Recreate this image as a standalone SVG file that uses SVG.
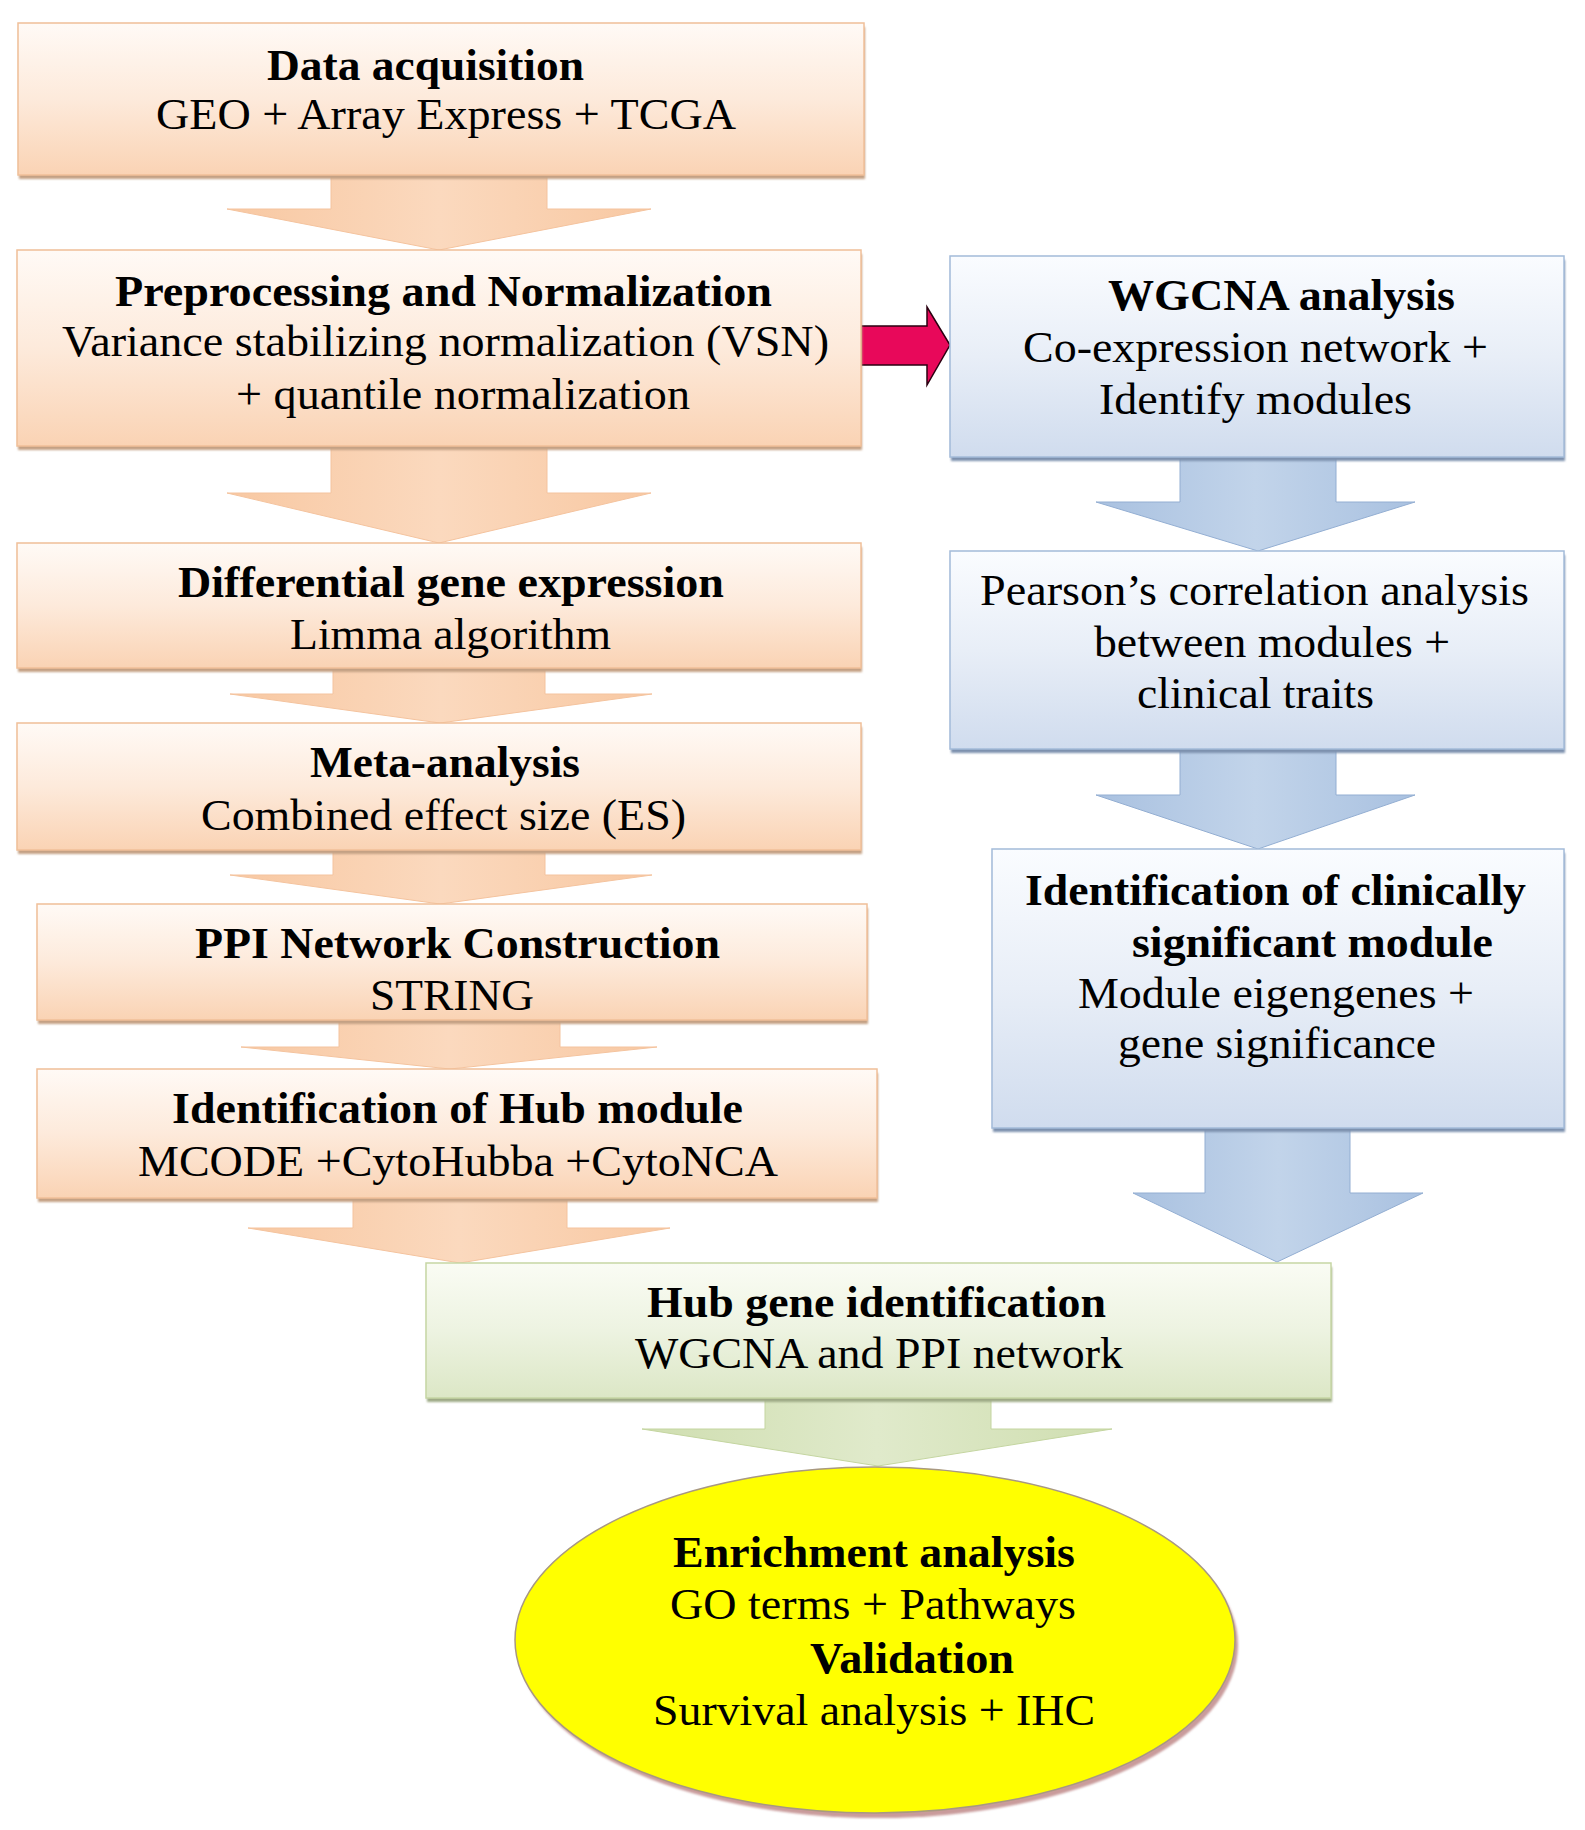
<svg xmlns="http://www.w3.org/2000/svg" width="1585" height="1830" viewBox="0 0 1585 1830">
<defs>
<linearGradient id="gOr" x1="0" y1="0" x2="0" y2="1"><stop offset="0" stop-color="#FFFAF6"/><stop offset="0.5" stop-color="#FDEADB"/><stop offset="1" stop-color="#FAD3B4"/></linearGradient>
<linearGradient id="gBl" x1="0" y1="0" x2="0" y2="1"><stop offset="0" stop-color="#FAFCFF"/><stop offset="0.5" stop-color="#E8EEF7"/><stop offset="1" stop-color="#D0DCEE"/></linearGradient>
<linearGradient id="gGr" x1="0" y1="0" x2="0" y2="1"><stop offset="0" stop-color="#FAFCF4"/><stop offset="0.5" stop-color="#EDF3E1"/><stop offset="1" stop-color="#DCE7C6"/></linearGradient>
<linearGradient id="aOr" x1="0" y1="0" x2="1" y2="0"><stop offset="0" stop-color="#F8C8A2"/><stop offset="0.5" stop-color="#FBD9BE"/><stop offset="1" stop-color="#F8C8A2"/></linearGradient>
<linearGradient id="aBl" x1="0" y1="0" x2="1" y2="0"><stop offset="0" stop-color="#A9C1E0"/><stop offset="0.5" stop-color="#C2D4EA"/><stop offset="1" stop-color="#A9C1E0"/></linearGradient>
<linearGradient id="aGr" x1="0" y1="0" x2="1" y2="0"><stop offset="0" stop-color="#CFDEB0"/><stop offset="0.5" stop-color="#E0EACB"/><stop offset="1" stop-color="#CFDEB0"/></linearGradient>
<filter id="blur" x="-5%" y="-5%" width="110%" height="115%"><feGaussianBlur stdDeviation="1.2"/></filter>
</defs>
<style>
.or{fill:url(#gOr);stroke:#F0BF98;stroke-width:1.5}
.bl{fill:url(#gBl);stroke:#A3BBD9;stroke-width:1.5}
.gr{fill:url(#gGr);stroke:#C6D6A4;stroke-width:1.5}
.shO{fill:#C4A184;filter:url(#blur)}
.shB{fill:#7D91AE;filter:url(#blur)}
.shG{fill:#9EAA86;filter:url(#blur)}
.arO{fill:url(#aOr);stroke:#F4C39E;stroke-width:1}
.arB{fill:url(#aBl);stroke:#93AED2;stroke-width:1}
.arG{fill:url(#aGr);stroke:#C4D5A0;stroke-width:1}
text{font-family:"Liberation Serif","Times New Roman",serif;font-size:45px;fill:#000}
.t{font-weight:bold}
</style>
<rect width="1585" height="1830" fill="#FFFFFF"/>
<g id="connectors">
<polygon class="arO" points="331,170 547,170 547,209 651,209 439,250 227,209 331,209"/>
<polygon class="arO" points="331,440 547,440 547,493 651,493 439,543 227,493 331,493"/>
<polygon class="arO" points="333,662 545,662 545,694 652,694 440,723 230,694 333,694"/>
<polygon class="arO" points="333,844 545,844 545,875 652,875 440,904 230,875 333,875"/>
<polygon class="arO" points="339,1014 560,1014 560,1047 657,1047 450,1069 241,1047 339,1047"/>
<polygon class="arO" points="353,1192 567,1192 567,1228 670,1228 460,1263 248,1228 353,1228"/>
<polygon class="arB" points="1180,452 1336,452 1336,502 1415,502 1258,551 1096,502 1180,502"/>
<polygon class="arB" points="1180,744 1336,744 1336,795 1415,795 1258,849 1096,795 1180,795"/>
<polygon class="arB" points="1205,1122 1350,1122 1350,1193 1423,1193 1277,1262 1133,1193 1205,1193"/>
<polygon class="arG" points="765,1393 991,1393 991,1429 1112,1429 878,1466 642,1429 765,1429"/>
<polygon fill="#E8085A" stroke="#2A0010" stroke-width="1.5" points="861,326 927,326 927,307 950,345 927,385 927,365 861,365"/>
</g>
<g id="n1"><rect class="shO" x="19" y="27" width="846" height="152"/><rect class="or" x="18" y="23" width="846" height="152"/>
<text class="t" x="267" y="80" textLength="317" lengthAdjust="spacingAndGlyphs">Data acquisition</text>
<text x="156" y="129" textLength="580" lengthAdjust="spacingAndGlyphs">GEO + Array Express + TCGA</text></g>
<g id="n2"><rect class="shO" x="18" y="254" width="844" height="196"/><rect class="or" x="17" y="250" width="844" height="196"/>
<text class="t" x="115" y="306" textLength="657" lengthAdjust="spacingAndGlyphs">Preprocessing and Normalization</text>
<text x="62" y="356" textLength="767" lengthAdjust="spacingAndGlyphs">Variance stabilizing normalization (VSN)</text>
<text x="236" y="409" textLength="454" lengthAdjust="spacingAndGlyphs">+ quantile normalization</text></g>
<g id="n3"><rect class="shO" x="18" y="547" width="844" height="125"/><rect class="or" x="17" y="543" width="844" height="125"/>
<text class="t" x="178" y="597" textLength="546" lengthAdjust="spacingAndGlyphs">Differential gene expression</text>
<text x="290" y="649" textLength="321" lengthAdjust="spacingAndGlyphs">Limma algorithm</text></g>
<g id="n4"><rect class="shO" x="18" y="727" width="844" height="127"/><rect class="or" x="17" y="723" width="844" height="127"/>
<text class="t" x="310" y="777" textLength="270" lengthAdjust="spacingAndGlyphs">Meta-analysis</text>
<text x="201" y="830" textLength="485" lengthAdjust="spacingAndGlyphs">Combined effect size (ES)</text></g>
<g id="n5"><rect class="shO" x="38" y="908" width="830" height="116"/><rect class="or" x="37" y="904" width="830" height="116"/>
<text class="t" x="195" y="958" textLength="525" lengthAdjust="spacingAndGlyphs">PPI Network Construction</text>
<text x="370" y="1010" textLength="164" lengthAdjust="spacingAndGlyphs">STRING</text></g>
<g id="n6"><rect class="shO" x="38" y="1073" width="840" height="129"/><rect class="or" x="37" y="1069" width="840" height="129"/>
<text class="t" x="172" y="1123" textLength="571" lengthAdjust="spacingAndGlyphs">Identification of Hub module</text>
<text x="138" y="1176" textLength="640" lengthAdjust="spacingAndGlyphs">MCODE +CytoHubba +CytoNCA</text></g>
<g id="n7"><rect class="shB" x="951" y="260" width="614" height="201"/><rect class="bl" x="950" y="256" width="614" height="201"/>
<text class="t" x="1108" y="310" textLength="347" lengthAdjust="spacingAndGlyphs">WGCNA analysis</text>
<text x="1023" y="362" textLength="465" lengthAdjust="spacingAndGlyphs">Co-expression network +</text>
<text x="1099" y="414" textLength="313" lengthAdjust="spacingAndGlyphs">Identify modules</text></g>
<g id="n8"><rect class="shB" x="951" y="555" width="614" height="198"/><rect class="bl" x="950" y="551" width="614" height="198"/>
<text x="980" y="605" textLength="549" lengthAdjust="spacingAndGlyphs">Pearson’s correlation analysis</text>
<text x="1094" y="657" textLength="356" lengthAdjust="spacingAndGlyphs">between modules +</text>
<text x="1137" y="708" textLength="237" lengthAdjust="spacingAndGlyphs">clinical traits</text></g>
<g id="n9"><rect class="shB" x="993" y="853" width="572" height="279"/><rect class="bl" x="992" y="849" width="572" height="279"/>
<text class="t" x="1025" y="905" textLength="501" lengthAdjust="spacingAndGlyphs">Identification of clinically</text>
<text class="t" x="1132" y="957" textLength="361" lengthAdjust="spacingAndGlyphs">significant module</text>
<text x="1078" y="1008" textLength="396" lengthAdjust="spacingAndGlyphs">Module eigengenes +</text>
<text x="1118" y="1058" textLength="318" lengthAdjust="spacingAndGlyphs">gene significance</text></g>
<g id="n10"><rect class="shG" x="427" y="1267" width="905" height="135"/><rect class="gr" x="426" y="1263" width="905" height="135"/>
<text class="t" x="647" y="1317" textLength="459" lengthAdjust="spacingAndGlyphs">Hub gene identification</text>
<text x="635" y="1368" textLength="488" lengthAdjust="spacingAndGlyphs">WGCNA and PPI network</text></g>
<g id="n11"><ellipse cx="878" cy="1645" rx="360" ry="173" fill="#C99B9B" filter="url(#blur)"/><ellipse cx="875" cy="1640" rx="360" ry="173" fill="#FFFF00" stroke="#A89882" stroke-width="1.5"/>
<text class="t" x="673" y="1567" textLength="402" lengthAdjust="spacingAndGlyphs">Enrichment analysis</text>
<text x="670" y="1619" textLength="406" lengthAdjust="spacingAndGlyphs">GO terms + Pathways</text>
<text class="t" x="810" y="1673" textLength="204" lengthAdjust="spacingAndGlyphs">Validation</text>
<text x="653" y="1725" textLength="442" lengthAdjust="spacingAndGlyphs">Survival analysis + IHC</text></g>
</svg>
